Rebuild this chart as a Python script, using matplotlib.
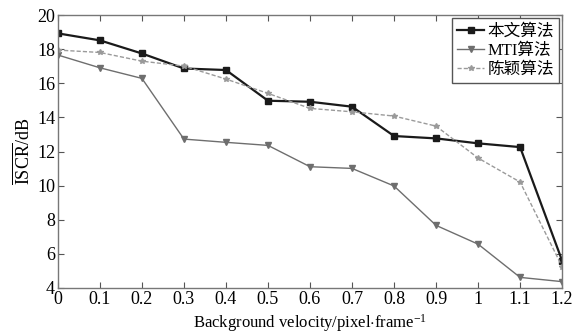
import matplotlib.pyplot as plt
import numpy as np

plt.rcParams['font.family'] = ['Liberation Serif', 'Noto Sans CJK SC']
plt.rcParams['mathtext.fontset'] = 'custom'
plt.rcParams['mathtext.rm'] = 'Liberation Serif'
plt.rcParams['mathtext.it'] = 'Liberation Serif:italic'

velocity = [0, 0.1, 0.2, 0.3, 0.4, 0.5, 0.6, 0.7, 0.8, 0.9, 1.0, 1.1, 1.2]
ours = [18.93, 18.52, 17.75, 16.87, 16.78, 14.98, 14.92, 14.63, 12.91, 12.77, 12.48, 12.26, 5.6]
mti = [17.66, 16.91, 16.29, 12.73, 12.54, 12.36, 11.11, 11.01, 9.98, 7.67, 6.57, 4.62, 4.37]
chen = [17.95, 17.81, 17.3, 17.01, 16.25, 15.41, 14.53, 14.33, 14.08, 13.49, 11.62, 10.21, 5.25]
xtick_labels = ['0', '0.1', '0.2', '0.3', '0.4', '0.5', '0.6', '0.7', '0.8', '0.9', '1', '1.1', '1.2']

fig = plt.figure(figsize=(5.73, 3.36), dpi=100)
ax = fig.add_axes([0.101, 0.143, 0.88, 0.812])

ax.plot(velocity, ours, color='#1a1a1a', lw=1.6, marker='s', ms=4, label='本文算法')
ax.plot(velocity, mti, color='#6e6e6e', lw=1.0, marker='v', ms=4, label='MTI算法')
ax.plot(velocity, chen, color='#9a9a9a', lw=1.0, ls='--', dashes=(3, 1.5),
        marker='*', ms=4, label='陈颖算法')

ax.set_xlim(0, 1.2)
ax.set_ylim(4, 20)
ax.set_xticks(velocity)
ax.set_xticklabels(xtick_labels)
ax.set_yticks(np.arange(4, 21, 2))
ax.tick_params(direction='in', top=True, right=True, labelsize=13, length=4,
               color='#555555', pad=2)
for s in ax.spines.values():
    s.set_color('#777777')
    s.set_linewidth(1.0)

ax.set_xlabel('Background velocity/pixel$\\cdot$frame$^{-1}$', fontsize=12, labelpad=3)
ax.set_ylabel('$\\overline{\\mathrm{ISCR}}$/dB', fontsize=13, labelpad=2)

leg = ax.legend(loc='upper right', fontsize=12, handlelength=1.6, handletextpad=0.2,
                borderpad=0.3, labelspacing=0.2, fancybox=False, framealpha=1,
                borderaxespad=0.2)
leg.get_frame().set_edgecolor('#555555')
leg.get_frame().set_linewidth(1.0)

plt.savefig('out.png', dpi=100)
